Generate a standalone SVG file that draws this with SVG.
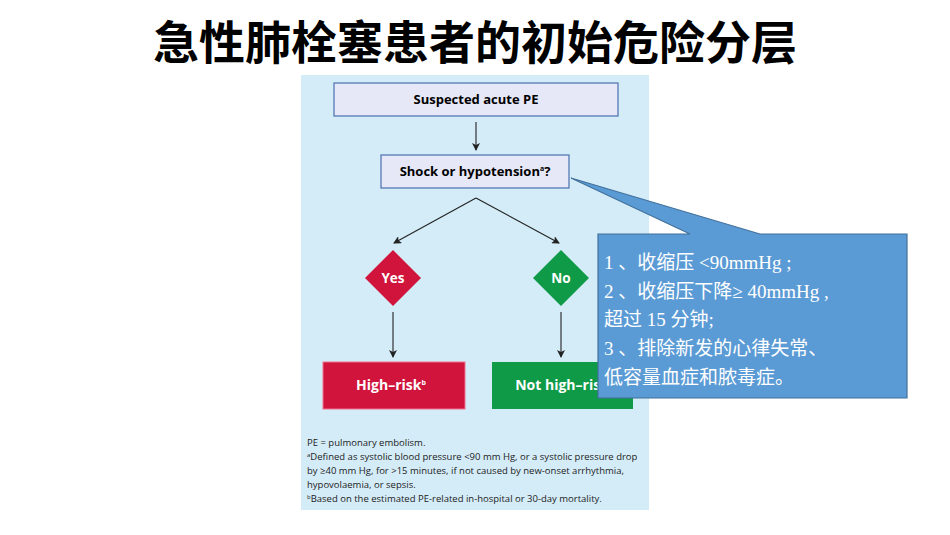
<svg xmlns="http://www.w3.org/2000/svg" width="950" height="535" viewBox="0 0 950 535">
<defs>
<marker id="ar" markerWidth="8" markerHeight="8" refX="7" refY="4" orient="auto" markerUnits="userSpaceOnUse"><path d="M0,0 L8,4 L0,8 L2,4 z" fill="#222"/></marker>
<style>
.t{font-family:"Open Sans","Liberation Sans",sans-serif;font-weight:bold;text-anchor:middle}
.box{fill:#e6e8f7;stroke:#4a6fb0;stroke-width:1.2}
.ln{stroke:#222;stroke-width:1.1;fill:none;marker-end:url(#ar)}
.fn{font-family:"Open Sans","Liberation Sans",sans-serif;font-size:9.5px;fill:#222}
.cj{font-family:"Liberation Serif","Noto Sans CJK SC",serif;font-size:19px;fill:#fff}
</style>
</defs>
<rect width="950" height="535" fill="#fff"/>
<text x="475" y="59" font-family="'Noto Sans CJK SC',sans-serif" font-weight="bold" font-size="46" text-anchor="middle">急性肺栓塞患者的初始危险分层</text>
<rect x="301" y="75" width="348" height="435" fill="#d4ecf8"/>
<g id="n1"><rect class="box" x="334" y="83" width="284" height="33"/><text class="t" x="476" y="104" font-size="13">Suspected acute PE</text></g>
<g id="n2"><rect class="box" x="381" y="155" width="188" height="33"/><text class="t" x="475" y="176" font-size="13">Shock or hypotension<tspan font-size="7" dy="-5">a</tspan><tspan dy="5">?</tspan></text></g>
<g id="yes"><path d="M393,250 L421,278 L393,306 L365,278 z" fill="#d0143c"/><text class="t" x="393" y="283" font-size="13.5" fill="#fff">Yes</text></g>
<g id="no"><path d="M561,250 L589,278 L561,306 L533,278 z" fill="#0f9a48"/><text class="t" x="561" y="283" font-size="13.5" fill="#fff">No</text></g>
<g id="hr"><rect x="323" y="362" width="142" height="47" fill="#d0143c" stroke="#f07090" stroke-width="1"/><text class="t" x="391" y="390" font-size="14" fill="#fff">High–risk<tspan font-size="7" dy="-5">b</tspan></text></g>
<g id="nhr"><rect x="492" y="362" width="141" height="47" fill="#0f9a48"/><text class="t" x="562" y="390" font-size="14" fill="#fff">Not high–risk</text></g>
<g id="connectors">
<path class="ln" d="M476,122 L476,150"/>
<path class="ln" d="M476,198 L394,243"/>
<path class="ln" d="M476,198 L559,243"/>
<path class="ln" d="M393,312 L393,357"/>
<path class="ln" d="M561,312 L561,357"/>
</g>
<g id="footnote">
<text class="fn" x="307" y="446">PE = pulmonary embolism.</text>
<text class="fn" x="307" y="460"><tspan font-size="6" dy="-3">a</tspan><tspan dy="3">Defined as systolic blood pressure &lt;90 mm Hg, or a systolic pressure drop</tspan></text>
<text class="fn" x="307" y="474">by ≥40 mm Hg, for &gt;15 minutes, if not caused by new-onset arrhythmia,</text>
<text class="fn" x="307" y="488">hypovolaemia, or sepsis.</text>
<text class="fn" x="307" y="502"><tspan font-size="6" dy="-3">b</tspan><tspan dy="3">Based on the estimated PE-related in-hospital or 30-day mortality.</tspan></text>
</g>
<g id="callout">
<path d="M598,234 L690,234 L571,178 L760,234 L907,234 L907,398 L598,398 z" fill="#5b9bd5" stroke="#41719c" stroke-width="1.2"/>
<text class="cj" x="604" y="269">1 、收缩压 &lt;90mmHg ;</text>
<text class="cj" x="604" y="298">2 、收缩压下降≥ 40mmHg ,</text>
<text class="cj" x="604" y="326">超过 15 分钟;</text>
<text class="cj" x="604" y="355">3 、排除新发的心律失常、</text>
<text class="cj" x="604" y="384">低容量血症和脓毒症。</text>
</g>
</svg>
